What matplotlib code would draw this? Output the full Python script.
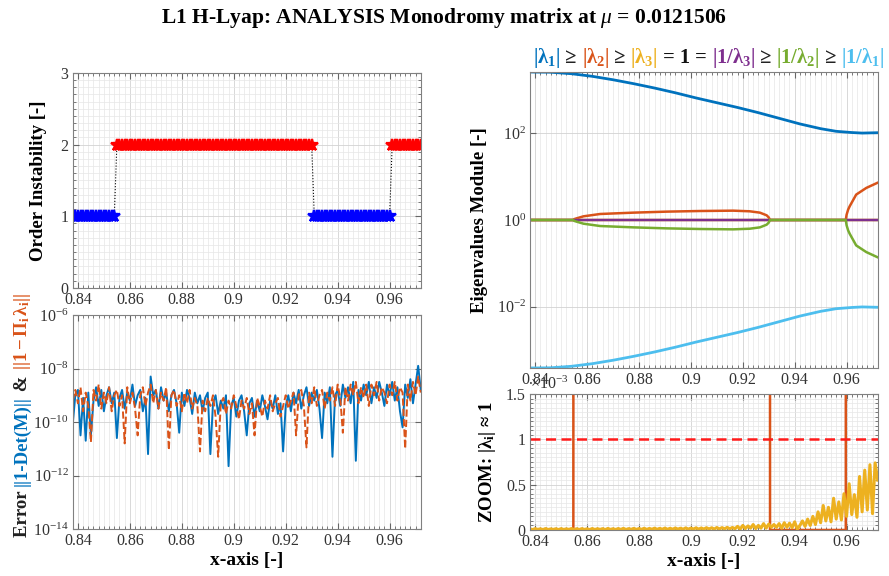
import numpy as np
import matplotlib
matplotlib.use('Agg')
import matplotlib.pyplot as plt
from matplotlib.ticker import (MultipleLocator, FuncFormatter, NullLocator,
                               FixedLocator, LogFormatterMathtext)

plt.rcParams.update({
    'font.family': ['Liberation Serif', 'DejaVu Serif'],
    'mathtext.fontset': 'custom',
    'mathtext.rm': 'Liberation Serif',
    'mathtext.it': 'Liberation Serif:italic',
    'mathtext.bf': 'Liberation Serif:bold',
    'xtick.direction': 'in',
    'ytick.direction': 'in',
    'xtick.top': True,
    'ytick.right': True,
})

# MATLAB default colours
c_blue = '#0072BD'
c_orange = '#D95319'
c_yellow = '#EDB120'
c_purple = '#7E2F8E'
c_green = '#77AC30'
c_cyan = '#4DBEEE'

# ---- family parameter sampling -------------------------------------------
x_lo, x_hi = 0.838, 0.972
n_samples = 135
x_grid = np.linspace(x_lo, x_hi, n_samples)

# order of instability, stored as (order, number of samples)
order_runs = [(1, 17), (2, 76), (1, 30), (2, 12)]

# log10 errors ||1-det(M)|| and ||1-prod(lambda_i)||
err_det_log = [
    -10.1, -9.0, -8.8, -10.5, -9.1, -10.7, -8.9, -10.5, -9.2, -8.7,
    -9.4, -8.8, -9.6, -9.0, -8.7, -9.3, -8.9, -10.6, -9.1, -8.8,
    -9.5, -8.9, -9.2, -8.6, -9.4, -9.0, -8.8, -9.6, -9.1, -11.2,
    -8.3, -9.0, -8.8, -9.5, -8.7, -9.2, -8.9, -9.6, -9.0, -8.8,
    -9.3, -10.4, -8.9, -9.4, -8.8, -9.1, -9.7, -8.9, -9.3, -9.0,
    -9.6, -9.1, -8.9, -11.2, -9.3, -9.0, -9.7, -9.2, -9.5, -9.0,
    -11.65, -9.4, -9.1, -9.8, -9.2, -9.0, -9.6, -10.5, -9.3, -9.1,
    -9.8, -9.2, -9.6, -9.0, -9.4, -9.9, -9.2, -9.5, -9.0, -9.7,
    -9.3, -11.1, -9.4, -9.0, -9.6, -8.9, -9.3, -8.8, -9.5, -9.0,
    -8.7, -9.4, -8.9, -9.2, -8.8, -9.5, -10.6, -8.9, -9.3, -8.7,
    -11.3, -9.0, -8.8, -9.4, -8.6, -9.1, -8.7, -9.3, -8.5, -11.45,
    -8.8, -9.2, -8.6, -9.0, -8.5, -9.3, -8.7, -9.1, -8.5, -8.9,
    -9.4, -8.6, -9.0, -8.5, -9.2, -8.7, -9.6, -10.2, -8.6, -9.1,
    -8.4, -9.3, -8.6, -7.9, -8.8,
]
err_prod_log = [
    -9.2, -8.8, -9.3, -8.7, -9.6, -8.9, -9.4, -10.75, -8.8, -9.2,
    -8.6, -9.5, -8.9, -9.3, -8.7, -9.6, -9.0, -8.8, -9.4, -9.0,
    -10.8, -8.7, -9.3, -8.9, -9.5, -10.5, -9.0, -8.7, -9.4, -8.9,
    -8.6, -9.3, -8.8, -9.5, -8.9, -9.2, -8.7, -11.05, -9.0, -8.8,
    -9.4, -9.0, -9.6, -8.9, -9.3, -8.8, -9.5, -9.1, -9.4, -11.1,
    -9.2, -9.6, -9.1, -9.4, -9.0, -9.8, -11.3, -9.3, -9.1, -9.7,
    -9.2, -9.5, -9.0, -9.4, -9.9, -9.2, -9.5, -9.1, -9.7, -9.3,
    -10.5, -9.1, -9.4, -9.8, -9.2, -9.5, -9.0, -9.6, -9.3, -9.1,
    -9.8, -9.4, -9.0, -9.5, -9.2, -8.9, -10.5, -9.0, -8.8, -9.4,
    -10.95, -8.9, -9.3, -8.7, -9.4, -9.0, -8.8, -9.5, -8.9, -9.2,
    -8.7, -9.4, -8.6, -9.1, -10.4, -8.7, -9.2, -8.6, -9.0, -8.5,
    -9.3, -8.7, -9.1, -8.6, -9.4, -8.6, -9.0, -8.5, -9.2, -8.7,
    -8.9, -9.3, -8.6, -9.0, -8.5, -9.2, -8.7, -8.9, -11.0, -8.6,
    -9.2, -8.5, -9.0, -8.3, -8.9,
]

# | |lambda_3| - 1 | in units of 1e-3 (sampled on x_grid)
lam3_dev_e3 = [
    0.012, 0.004, 0.015, 0.006, 0.013, 0.004, 0.016, 0.005, 0.012, 0.006,
    0.014, 0.004, 0.015, 0.005, 0.013, 0.006, 0.016, 0.004, 0.014, 0.005,
    0.015, 0.006, 0.013, 0.004, 0.016, 0.005, 0.014, 0.006, 0.015, 0.004,
    0.017, 0.006, 0.014, 0.005, 0.016, 0.006, 0.018, 0.005, 0.015, 0.007,
    0.018, 0.006, 0.016, 0.007, 0.019, 0.006, 0.017, 0.008, 0.020, 0.007,
    0.018, 0.008, 0.021, 0.007, 0.019, 0.008, 0.022, 0.009, 0.020, 0.008,
    0.023, 0.009, 0.021, 0.010, 0.024, 0.009, 0.022, 0.010, 0.025, 0.011,
    0.024, 0.010, 0.027, 0.011, 0.026, 0.012, 0.029, 0.012, 0.028, 0.013,
    0.040, 0.010, 0.050, 0.015, 0.045, 0.020, 0.060, 0.015, 0.050, 0.020,
    0.070, 0.020, 0.065, 0.030, 0.060, 0.030, 0.070, 0.020, 0.080, 0.030,
    0.075, 0.025, 0.090, 0.010, 0.050, 0.100, 0.040, 0.120, 0.050, 0.150,
    0.060, 0.200, 0.080, 0.270, 0.100, 0.250, 0.090, 0.350, 0.120, 0.310,
    0.110, 0.400, 0.150, 0.510, 0.170, 0.390, 0.140, 0.590, 0.200, 0.660,
    0.220, 0.720, 0.180, 0.740, 0.550,
]

# |lambda_1| along the family
x_lam1 = [0.838, 0.846, 0.854, 0.862, 0.870, 0.878, 0.886, 0.894, 0.902,
          0.910, 0.918, 0.926, 0.934, 0.942, 0.950, 0.956, 0.962, 0.966, 0.972]
lam1 = [2630, 2600, 2400, 2090, 1740, 1410, 1120, 870, 661,
        513, 398, 302, 224, 166, 129, 112, 105, 102, 104]

# |lambda_2| along the family (1 where lambda_2 lies on the unit circle)
x_lam2 = [0.838, 0.8470, 0.8547, 0.8550, 0.8560, 0.8586, 0.8650, 0.8778,
          0.8906, 0.9035, 0.9163, 0.9227, 0.9266, 0.9292, 0.9300, 0.9305,
          0.9400, 0.9500, 0.9597, 0.9600, 0.9606, 0.9612, 0.9637, 0.9676,
          0.9718]
lam2 = [1.0, 1.0, 1.0, 1.047, 1.094, 1.216, 1.377, 1.479,
        1.560, 1.614, 1.644, 1.589, 1.479, 1.282, 1.148, 1.0,
        1.0, 1.0, 1.0, 1.318, 1.738, 2.075, 3.864, 5.508,
        7.194]

tol = 1e-3

# ---- derived arrays ---------------------------------------------------------
order = np.repeat([o for o, n in order_runs], [n for o, n in order_runs])
err_det = 10.0 ** np.array(err_det_log)
err_prod = 10.0 ** np.array(err_prod_log)
lam3_dev = np.array(lam3_dev_e3) * 1e-3
lam3 = 1.0 + lam3_dev
lam1 = np.array(lam1, dtype=float)
lam2 = np.array(lam2)

fig = plt.figure(figsize=(8.89, 5.76), dpi=100)
ax_ord = fig.add_axes([0.0818, 0.500, 0.3915, 0.3733])
ax_err = fig.add_axes([0.0818, 0.0816, 0.3915, 0.3715])
ax_eig = fig.add_axes([0.5962, 0.3611, 0.3911, 0.5139])
ax_zoom = fig.add_axes([0.5962, 0.0799, 0.3911, 0.2361])


def style(ax):
    ax.set_xlim(x_lo, x_hi)
    ax.xaxis.set_major_locator(MultipleLocator(0.02))
    ax.xaxis.set_minor_locator(MultipleLocator(0.002))
    ax.xaxis.set_major_formatter(FuncFormatter(lambda v, p: '%g' % round(v, 4)))
    ax.grid(True, which='major', color='#d2d2d2', lw=0.6)
    ax.grid(True, which='minor', color='#e6e6e6', lw=0.5)
    ax.set_axisbelow(True)
    ax.tick_params(which='both', color='#666666', labelcolor='#333333',
                   labelsize=11.5, pad=3)
    ax.tick_params(which='major', length=4)
    ax.tick_params(which='minor', length=2)
    for sp in ax.spines.values():
        sp.set_color('#808080')
        sp.set_linewidth(0.8)


def log_style(ax, ticks):
    ax.set_yscale('log')
    ax.yaxis.set_major_locator(FixedLocator(ticks))
    ax.yaxis.set_minor_locator(NullLocator())
    ax.yaxis.set_major_formatter(LogFormatterMathtext())
    ax.grid(False, which='minor', axis='y')


def colored_text(parts, colors, x, y, vertical=False, **kw):
    # lay pieces of text one after another, centred on (x, y) along the text
    renderer = fig.canvas.get_renderer()
    texts = [fig.text(0, 0, s, color=c, rotation=90 if vertical else 0,
                      rotation_mode='anchor', ha='left', va='baseline', **kw)
             for s, c in zip(parts, colors)]
    sizes = []
    for t in texts:
        bb = t.get_window_extent(renderer)
        sizes.append(bb.height if vertical else bb.width)
    W, H = fig.bbox.width, fig.bbox.height
    pos = (y * H if vertical else x * W) - sum(sizes) / 2
    for t, s in zip(texts, sizes):
        if vertical:
            t.set_position((x, pos / H))
        else:
            t.set_position((pos / W, y))
        pos += s


# ---- order of instability -------------------------------------------------
style(ax_ord)
ax_ord.plot(x_grid, order, ':', color='k', lw=0.8)
m1 = order == 1
m2 = order == 2
ax_ord.plot(x_grid[m1], order[m1], '*', color='#0000FF', ms=9, mew=1.6, ls='none')
ax_ord.plot(x_grid[m2], order[m2], '*', color='#FF0000', ms=9, mew=1.6, ls='none')
ax_ord.set_ylim(0, 3)
ax_ord.yaxis.set_major_locator(MultipleLocator(1))
ax_ord.yaxis.set_minor_locator(MultipleLocator(0.1))
ax_ord.set_ylabel('Order Instability [-]', fontsize=13.5, fontweight='bold',
                  labelpad=10)

# ---- errors ------------------------------------------------------------------
style(ax_err)
ax_err.plot(x_grid, err_det, '-', color=c_blue, lw=1.4)
ax_err.plot(x_grid, err_prod, '--', color=c_orange, lw=1.4)
log_style(ax_err, [1e-14, 1e-12, 1e-10, 1e-8, 1e-6])
ax_err.set_ylim(1e-14, 1e-6)
ax_err.set_xlabel('x-axis [-]', fontsize=14, fontweight='bold', labelpad=2)
colored_text(['Error ', '||1-Det(M)||', ' & ', r'$\mathbf{||1-Π_i\,λ_i||}$'],
             ['#222222', c_blue, '#222222', c_orange],
             0.030, 0.2795, vertical=True, fontsize=13.5, fontweight='bold')

# ---- eigenvalue modules ----------------------------------------------------
style(ax_eig)
ax_eig.plot(x_lam1, lam1, color=c_blue, lw=2.0)
ax_eig.plot(x_lam2, lam2, color=c_orange, lw=1.8)
ax_eig.plot(x_grid, lam3, color=c_yellow, lw=1.8)
ax_eig.plot(x_grid, 1 / lam3, color=c_purple, lw=1.8)
ax_eig.plot(x_lam2, 1 / lam2, color=c_green, lw=1.8)
ax_eig.plot(x_lam1, 1 / lam1, color=c_cyan, lw=2.0)
log_style(ax_eig, [1e-2, 1e0, 1e2])
ax_eig.set_ylim(1 / lam1.max(), lam1.max())
ax_eig.set_ylabel('Eigenvalues Module [-]', fontsize=13.5, fontweight='bold',
                  labelpad=6)
colored_text([r'$\mathbf{|λ_1|}$', ' ≥ ', r'$\mathbf{|λ_2|}$', ' ≥ ',
              r'$\mathbf{|λ_3|}$', ' = 1 = ', r'$\mathbf{|1/λ_3|}$', ' ≥ ',
              r'$\mathbf{|1/λ_2|}$', ' ≥ ', r'$\mathbf{|1/λ_1|}$'],
             [c_blue, '#222222', c_orange, '#222222', c_yellow, '#111111',
              c_purple, '#222222', c_green, '#222222', c_cyan],
             0.797, 0.890, fontsize=14.8, fontweight='bold')

# ---- zoom around |lambda| = 1 ----------------------------------------------
style(ax_zoom)
ax_zoom.plot(x_lam2, np.abs(lam2 - 1), color=c_orange, lw=1.8)
ax_zoom.plot(x_grid, lam3_dev, color=c_yellow, lw=2.2)
ax_zoom.axhline(tol, color='#FF1A1A', lw=1.8, ls=(0, (4, 2.2)))
ax_zoom.set_ylim(0, 1.5e-3)
ax_zoom.yaxis.set_major_locator(MultipleLocator(0.5e-3))
ax_zoom.yaxis.set_minor_locator(MultipleLocator(0.05e-3))
ax_zoom.yaxis.set_major_formatter(FuncFormatter(lambda v, p: '%g' % round(v * 1e3, 3)))
ax_zoom.text(0.0, 1.005, r'$\times10^{-3}$', transform=ax_zoom.transAxes,
             ha='left', va='bottom', fontsize=11.5, color='#333333')
ax_zoom.set_ylabel(r'ZOOM: $\mathbf{|λ_i|}$ ≈ 1', fontsize=13.5,
                   fontweight='bold', labelpad=6)
ax_zoom.set_xlabel('x-axis [-]', fontsize=14, fontweight='bold', labelpad=2)

fig.text(0.5, 0.968, r'L1 H-Lyap: ANALYSIS Monodromy matrix at $\mu$ = 0.0121506',
         ha='center', va='center', fontsize=15.5, fontweight='bold')

fig.savefig('out.png', dpi=100)
